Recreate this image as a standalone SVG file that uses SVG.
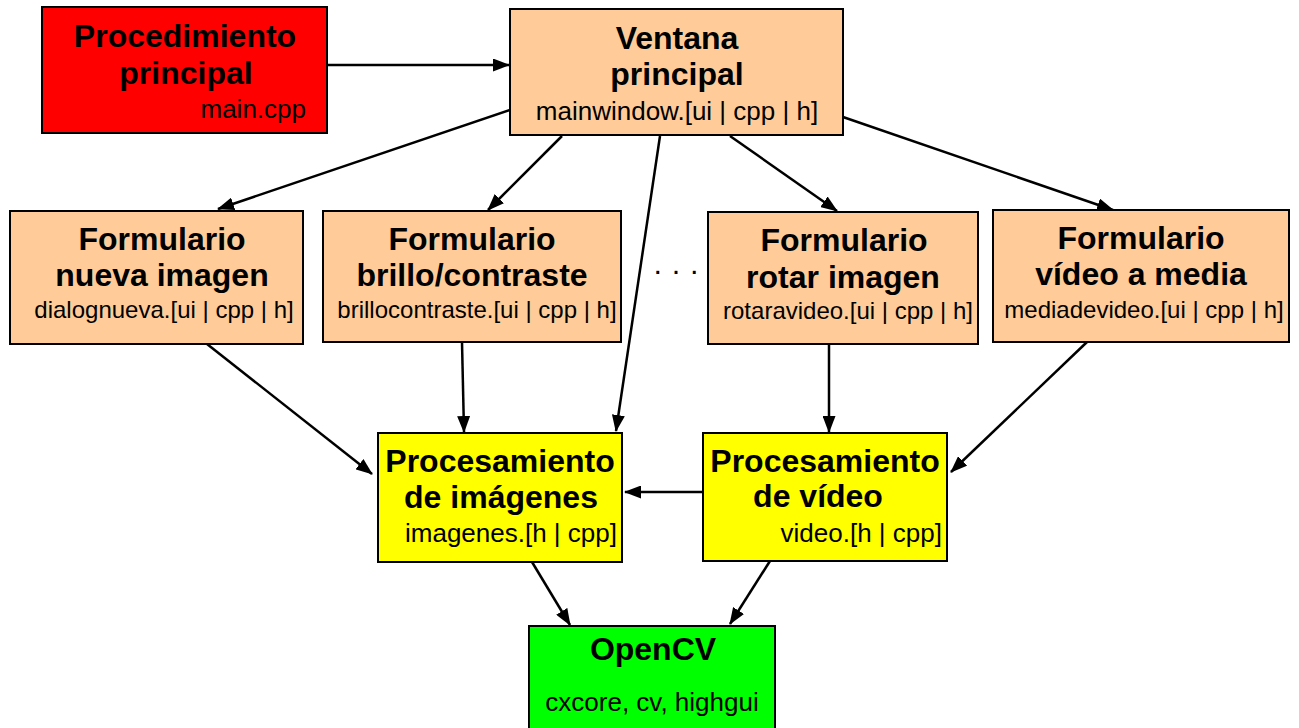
<svg xmlns="http://www.w3.org/2000/svg" width="1299" height="728" viewBox="0 0 1299 728">
<style>
  .box { stroke: #000; stroke-width: 2; }
  .red { fill: #FF0000; }
  .peach { fill: #FFCC99; }
  .yellow { fill: #FFFF00; }
  .green { fill: #00FF00; }
  text { font-family: "Liberation Sans", Arial, sans-serif; fill: #000; }
  .t { font-weight: bold; font-size: 32px; text-anchor: middle; }
  .s { font-size: 26px; }
  .s2 { font-size: 24px; text-anchor: middle; }
  .c { stroke: #000; stroke-width: 2.5; fill: none; marker-end: url(#ah); }
</style>
<defs>
  <marker id="ah" viewBox="0 0 17 13" refX="16" refY="6.5" markerWidth="17" markerHeight="13" markerUnits="userSpaceOnUse" orient="auto">
    <path d="M0,0 L17,6.5 L0,13 Z" fill="#000"/>
  </marker>
</defs>
<rect width="1299" height="728" fill="#fff"/>

<g id="connectors">
  <line class="c" x1="327" y1="65" x2="509" y2="65"/>
  <line class="c" x1="510" y1="110" x2="218" y2="209"/>
  <line class="c" x1="562" y1="136" x2="488" y2="210"/>
  <line class="c" x1="660" y1="136" x2="616" y2="431"/>
  <line class="c" x1="730" y1="136" x2="837" y2="211"/>
  <line class="c" x1="843" y1="117" x2="1113" y2="210"/>
  <line class="c" x1="207" y1="344" x2="372" y2="474"/>
  <line class="c" x1="462" y1="342" x2="464" y2="432"/>
  <line class="c" x1="829" y1="344" x2="829" y2="432"/>
  <line class="c" x1="1087" y1="342" x2="951" y2="472"/>
  <line class="c" x1="703" y1="492" x2="625" y2="492"/>
  <line class="c" x1="532" y1="562" x2="570" y2="625"/>
  <line class="c" x1="770" y1="561" x2="730" y2="624"/>
</g>

<g id="main">
  <rect class="box red" x="42" y="7" width="285" height="126"/>
  <text class="t" x="185" y="47">Procedimiento</text>
  <text class="t" x="186" y="84">principal</text>
  <text class="s" x="306" y="118" text-anchor="end">main.cpp</text>
</g>

<g id="ventana">
  <rect class="box peach" x="510" y="9" width="333" height="126"/>
  <text class="t" x="677" y="49">Ventana</text>
  <text class="t" x="677" y="85">principal</text>
  <text class="s" x="677" y="120" text-anchor="middle">mainwindow.[ui | cpp | h]</text>
</g>

<g id="nueva">
  <rect class="box peach" x="10" y="211" width="293" height="133"/>
  <text class="t" x="162" y="250">Formulario</text>
  <text class="t" x="162" y="286">nueva imagen</text>
  <text class="s2" x="164" y="318">dialognueva.[ui | cpp | h]</text>
</g>

<g id="brillo">
  <rect class="box peach" x="323" y="211" width="298" height="131"/>
  <text class="t" x="472" y="250">Formulario</text>
  <text class="t" x="472" y="286">brillo/contraste</text>
  <text class="s2" x="477" y="318">brillocontraste.[ui | cpp | h]</text>
</g>

<g id="dots">
  <text x="676" y="280" font-size="30" text-anchor="middle">· · ·</text>
</g>

<g id="rotar">
  <rect class="box peach" x="708" y="212" width="270" height="132"/>
  <text class="t" x="844" y="251">Formulario</text>
  <text class="t" x="843" y="288">rotar imagen</text>
  <text class="s2" x="848" y="319">rotaravideo.[ui | cpp | h]</text>
</g>

<g id="media">
  <rect class="box peach" x="993" y="210" width="296" height="132"/>
  <text class="t" x="1141" y="249">Formulario</text>
  <text class="t" x="1141" y="285">vídeo a media</text>
  <text class="s2" x="1144" y="318">mediadevideo.[ui | cpp | h]</text>
</g>

<g id="imagenes">
  <rect class="box yellow" x="378" y="433" width="244" height="129"/>
  <text class="t" x="500" y="472">Procesamiento</text>
  <text class="t" x="501" y="508">de imágenes</text>
  <text class="s" x="617" y="542" text-anchor="end">imagenes.[h | cpp]</text>
</g>

<g id="video">
  <rect class="box yellow" x="703" y="433" width="244" height="128"/>
  <text class="t" x="825" y="472">Procesamiento</text>
  <text class="t" x="818" y="507">de vídeo</text>
  <text class="s" x="942" y="542" text-anchor="end">video.[h | cpp]</text>
</g>

<g id="opencv">
  <rect class="box green" x="529" y="626" width="246" height="110"/>
  <text class="t" x="653" y="660">OpenCV</text>
  <text class="s" x="652" y="711" text-anchor="middle">cxcore, cv, highgui</text>
</g>
</svg>
